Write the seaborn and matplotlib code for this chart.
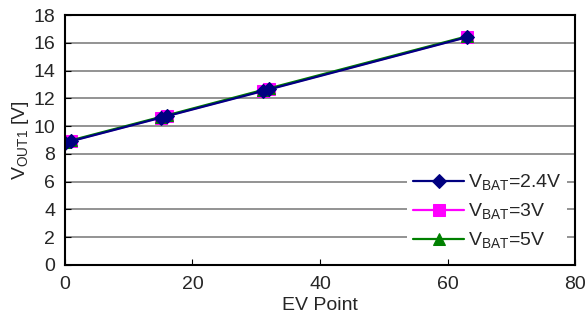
import numpy as np
import pandas as pd
import matplotlib
matplotlib.use("Agg")
import matplotlib.pyplot as plt
import seaborn as sns

# data
ev_point = [0, 1, 15, 16, 31, 32, 63]
vout_24 = [8.80, 8.92, 10.60, 10.72, 12.52, 12.64, 16.40]
vout_3 = [8.82, 8.94, 10.62, 10.74, 12.55, 12.67, 16.42]
vout_5 = [8.86, 8.98, 10.66, 10.78, 12.60, 12.72, 16.46]

series_names = ["V$_{\\mathregular{BAT}}$=2.4V", "V$_{\\mathregular{BAT}}$=3V", "V$_{\\mathregular{BAT}}$=5V"]
x_ticks = [0, 20, 40, 60, 80]
y_ticks = [0, 2, 4, 6, 8, 10, 12, 14, 16, 18]

sns.set_style("white")
plt.rcParams['font.family'] = ['Liberation Sans', 'DejaVu Sans']
plt.rcParams['mathtext.fontset'] = 'custom'
plt.rcParams['mathtext.rm'] = 'Liberation Sans'

fig = plt.figure(figsize=(5.87, 3.2), dpi=100)
ax = fig.add_axes([0.1107, 0.172, 0.8689, 0.781])

styles = [
    (vout_3, series_names[1], "#FF00FF", "s", 9),
    (vout_5, series_names[2], "#008000", "^", 8),
    (vout_24, series_names[0], "#000080", "D", 7),
]
for vals, name, color, marker, ms in styles:
    df = pd.DataFrame({"EV Point": ev_point, "VOUT": vals})
    sns.lineplot(data=df, x="EV Point", y="VOUT", ax=ax, color=color, marker=marker,
                 markersize=ms, markeredgecolor=color, linewidth=1.6, label=name)

ax.set_xlim(0, 80)
ax.set_ylim(0, 18)
ax.set_xticks(x_ticks)
ax.set_yticks(y_ticks)
ax.yaxis.grid(True, color="#808080", linewidth=1.2)
ax.xaxis.grid(False)
for s in ax.spines.values():
    s.set_color("black")
    s.set_linewidth(1.5)
ax.tick_params(axis="both", labelsize=14, direction="in", length=4, color="black",
               left=True, bottom=True)
ax.tick_params(axis="x", pad=8)
ax.tick_params(axis="y", pad=7)
ax.set_xlabel("EV Point", fontsize=14, labelpad=3)
ax.set_ylabel("V$_{\\mathregular{OUT1}}$ [V]", fontsize=14, labelpad=2)

h, l = ax.get_legend_handles_labels()
order = [l.index(n) for n in series_names]
leg = ax.legend([h[i] for i in order], [l[i] for i in order], loc="lower right",
                fontsize=14, frameon=True, framealpha=1, edgecolor="white",
                handlelength=2.6, borderaxespad=0.4, borderpad=0.3,
                labelspacing=0.45, handletextpad=0.2)
leg.get_frame().set_linewidth(0)

fig.savefig("out.png", dpi=100)
